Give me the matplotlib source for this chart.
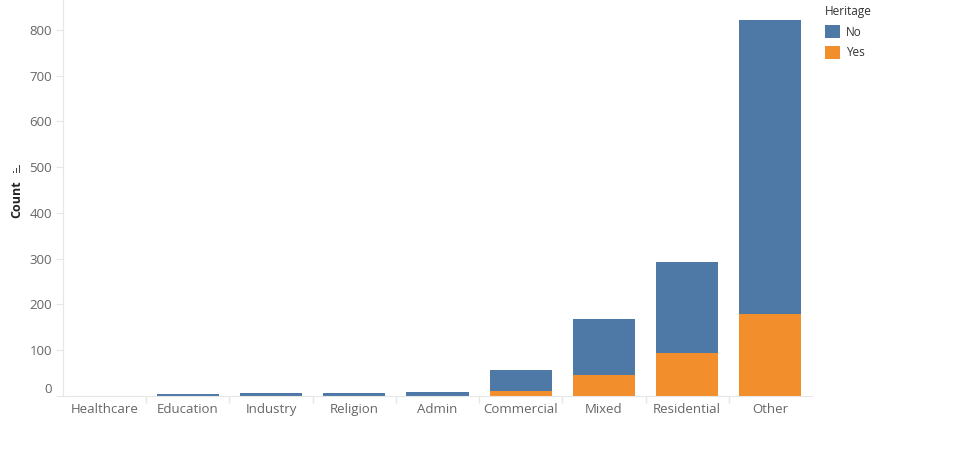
import matplotlib
matplotlib.use("Agg")
import matplotlib.pyplot as plt
from matplotlib.patches import Patch, Rectangle
import numpy as np

categories = ["Healthcare", "Education", "Industry", "Religion", "Admin",
              "Commercial", "Mixed", "Residential", "Other"]
no_values = [0, 3, 5, 5, 8, 44, 122, 198, 642]
yes_values = [0, 1, 1, 1, 0, 12, 46, 94, 179]
y_ticks = [0, 100, 200, 300, 400, 500, 600, 700, 800]

blue = "#4e79a7"
orange = "#f28e2b"
grey_text = "#666666"
line_col = "#e6e6e6"

plt.rcParams['font.family'] = ['Open Sans', 'DejaVu Sans']

fig = plt.figure(figsize=(9.62, 4.61), dpi=100)
ax = fig.add_axes([63/962, 1 - 396/461, (812-63)/962, 396/461])

x = np.arange(len(categories))
ax.bar(x, yes_values, width=0.745, color=orange, zorder=2)
ax.bar(x, no_values, bottom=yes_values, width=0.745, color=blue, zorder=2)

ax.set_xlim(-0.5, len(categories) - 0.5)
ax.set_ylim(0, 865)

ax.set_yticks(y_ticks)
ax.set_yticklabels([str(v) for v in y_ticks], color=grey_text, fontsize=9.5)
ax.yaxis.get_majorticklabels()[0].set_va('bottom')
ax.tick_params(axis='y', length=5, color=line_col, pad=3)

ax.set_xticks(x)
ax.set_xticklabels(categories, color=grey_text, fontsize=9.5)
ax.tick_params(axis='x', which='major', length=0, pad=5)
ax.set_xticks(np.arange(len(categories) - 1) + 0.5, minor=True)
ax.tick_params(axis='x', which='minor', length=5, color=line_col, width=1)

for s in ['top', 'right']:
    ax.spines[s].set_visible(False)
ax.spines['left'].set_color(line_col)
ax.spines['bottom'].set_color(line_col)

fig.text(17/962, 1 - 199/461, "Count", rotation=90, ha='center', va='center',
         fontsize=9, fontweight='bold', color='#222222')
# small sort icon above axis title
for px, h in [(13, 2), (16, 5), (19, 8)]:
    fig.add_artist(Rectangle((px/962, 1 - 173/461), 1.0/962, h/461,
                             transform=fig.transFigure, color='#444444',
                             linewidth=0))

handles = [Patch(facecolor=blue, edgecolor='none', label='No'),
           Patch(facecolor=orange, edgecolor='none', label='Yes')]
leg = fig.legend(handles=handles, title="Heritage", loc='upper left',
                 bbox_to_anchor=(818/962, 1.004), frameon=False, fontsize=8.5,
                 title_fontsize=8.5, handlelength=1.3, handleheight=1.3,
                 handletextpad=0.5, labelspacing=0.6, borderaxespad=0.2)
leg._legend_box.align = "left"
for t in leg.get_texts():
    t.set_color('#333333')
leg.get_title().set_color('#333333')

fig.savefig("out.png", dpi=100)
